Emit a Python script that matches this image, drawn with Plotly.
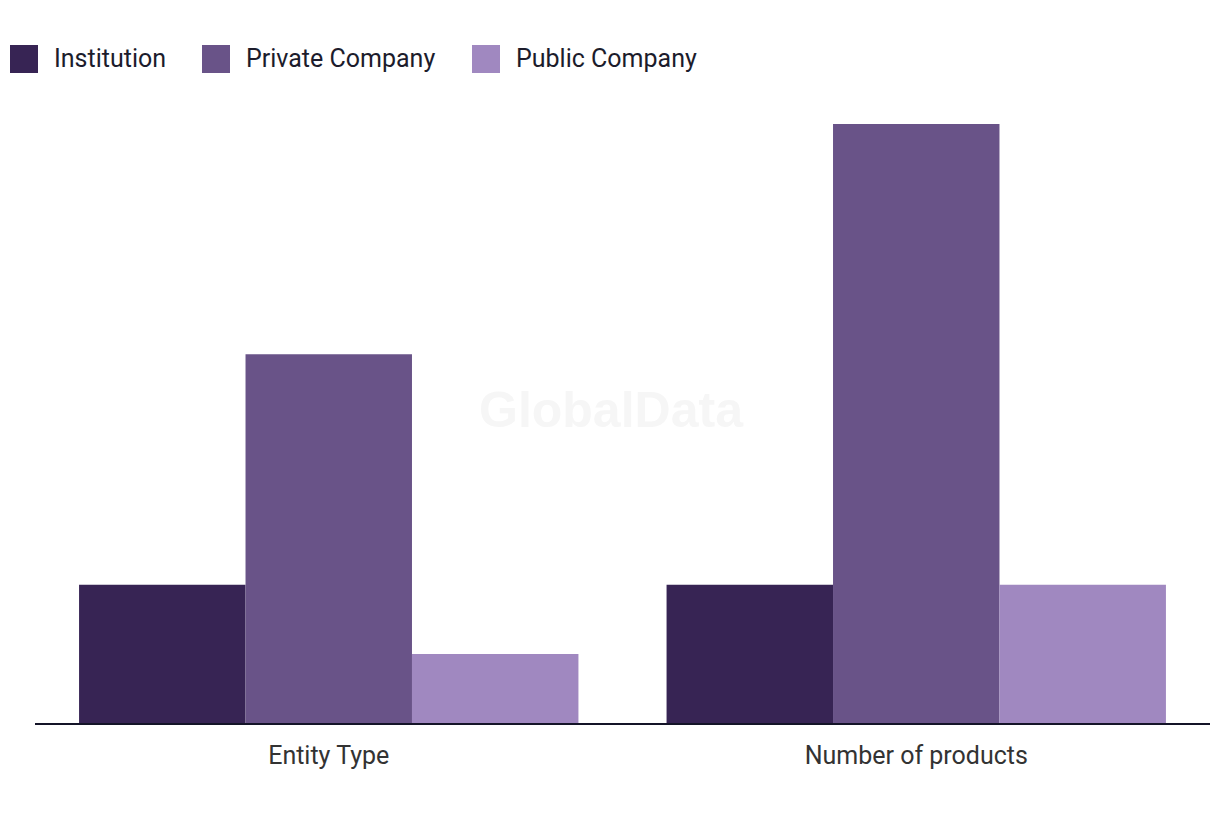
import plotly.graph_objects as go

categories = ["Entity Type", "Number of products"]
series_names = ["Institution", "Private Company", "Public Company"]
institution = [6, 6]
private_company = [16, 26]
public_company = [3, 6]
colors = ["#372454", "#695388", "#a088c0"]

W, H = 1220, 820
OFF = 8  # page body margin
ML, MR, MT, MB = 35 - OFF, W - (1210 - OFF), 94 - OFF, H - (723 - OFF)
PW, PH = W - ML - MR, H - MT - MB

def px_x(x):
    return (x - OFF - ML) / PW

def px_y(y):
    return (H - MB - (y - OFF)) / PH

fig = go.Figure()
for name, vals, col in zip(series_names, [institution, private_company, public_company], colors):
    fig.add_trace(go.Bar(x=categories, y=vals, name=name, marker=dict(color=col, line=dict(width=0)),
                         showlegend=False))

font_fam = "Roboto, Inter, sans-serif"
text_col = "#1c1c2c"

# custom legend
legend_sq_x = [10, 202, 472]
shapes = []
annotations = []
for name, col, sx in zip(series_names, colors, legend_sq_x):
    shapes.append(dict(type="rect", xref="paper", yref="paper",
                       x0=px_x(sx), x1=px_x(sx + 28), y0=px_y(73), y1=px_y(45),
                       fillcolor=col, line=dict(width=0)))
    annotations.append(dict(text=name, xref="paper", yref="paper", x=px_x(sx + 42), y=px_y(59),
                            xanchor="left", yanchor="middle", showarrow=False,
                            font=dict(family=font_fam, size=25, color=text_col)))

annotations.append(dict(text="<b>GlobalData</b>", xref="paper", yref="paper", x=px_x(611), y=px_y(410),
                        xanchor="center", yanchor="middle", showarrow=False,
                        font=dict(family="Liberation Sans, Arial, sans-serif", size=50, color="#f6f6f6")))

fig.update_layout(
    width=W, height=H,
    margin=dict(l=ML, r=MR, t=MT, b=MB, pad=0),
    paper_bgcolor="white", plot_bgcolor="white",
    barmode="group", bargap=0.15, bargroupgap=0,
    shapes=shapes, annotations=annotations,
    font=dict(family=font_fam, size=25, color=text_col),
    xaxis=dict(showline=True, linecolor="#141428", linewidth=2, showgrid=False,
               ticks="", ticklabelstandoff=9, tickfont=dict(size=25, color="#333333")),
    yaxis=dict(range=[0, 27.3], showgrid=False, showticklabels=False, zeroline=False, showline=False),
)

fig.write_html("out.html")
